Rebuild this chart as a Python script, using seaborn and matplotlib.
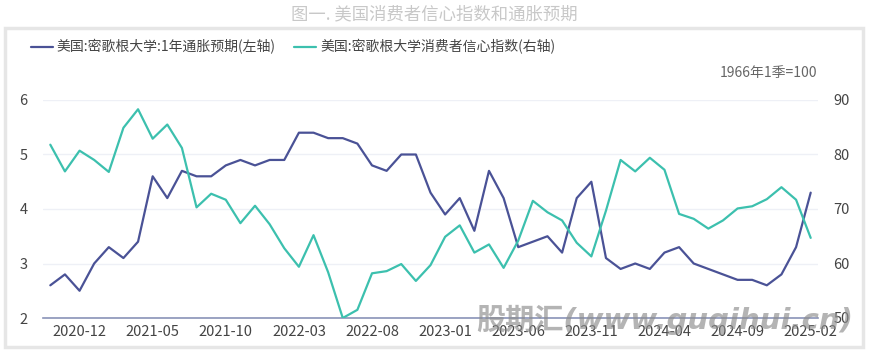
import pandas as pd
import seaborn as sns
import matplotlib.pyplot as plt
from matplotlib.patches import Rectangle

# monthly, 2020-10 .. 2025-02
months = pd.date_range("2020-10-01", "2025-02-01", freq="MS").strftime("%Y-%m").tolist()
inflation_1y = [2.6, 2.8, 2.5, 3.0, 3.3, 3.1, 3.4, 4.6, 4.2, 4.7, 4.6, 4.6,
                4.8, 4.9, 4.8, 4.9, 4.9, 5.4, 5.4, 5.3, 5.3, 5.2, 4.8, 4.7,
                5.0, 5.0, 4.3, 3.9, 4.2, 3.6, 4.7, 4.2, 3.3, 3.4, 3.5, 3.2,
                4.2, 4.5, 3.1, 2.9, 3.0, 2.9, 3.2, 3.3, 3.0, 2.9, 2.8, 2.7,
                2.7, 2.6, 2.8, 3.3, 4.3]
sentiment = [81.8, 76.9, 80.7, 79.0, 76.8, 84.9, 88.3, 82.9, 85.5, 81.2, 70.3, 72.8,
             71.7, 67.4, 70.6, 67.2, 62.8, 59.4, 65.2, 58.4, 50.0, 51.5, 58.2, 58.6,
             59.9, 56.8, 59.7, 64.9, 67.0, 62.0, 63.5, 59.2, 64.2, 71.5, 69.4, 67.9,
             63.8, 61.3, 69.7, 79.0, 76.9, 79.4, 77.2, 69.1, 68.2, 66.4, 67.9, 70.1,
             70.5, 71.8, 74.0, 71.7, 64.7]

df = pd.DataFrame({"month": months, "infl": inflation_1y, "sent": sentiment})
df["idx"] = range(len(df))

sns.set_style("white")
plt.rcParams["font.family"] = ["Noto Sans CJK SC", "DejaVu Sans"]

c_infl = "#4a5296"
c_sent = "#3cc0ae"
txt = "#444444"

fig = plt.figure(figsize=(8.69, 3.51), dpi=100)
ax = fig.add_axes([43 / 869, 1 - 318 / 351, 775 / 869, 218 / 351])
ax2 = ax.twinx()

sns.lineplot(data=df, x="idx", y="infl", ax=ax, color=c_infl, linewidth=1.6,
             label="美国:密歌根大学:1年通胀预期(左轴)", legend=False)
sns.lineplot(data=df, x="idx", y="sent", ax=ax2, color=c_sent, linewidth=1.6,
             label="美国:密歌根大学消费者信心指数(右轴)", legend=False)

ax.set_ylim(2, 6)
ax2.set_ylim(50, 90)
ax.set_yticks([2, 3, 4, 5, 6])
ax2.set_yticks([50, 60, 70, 80, 90])
ax.set_xlim(-0.5, len(df) - 0.5)
tick_pos = list(range(2, len(df), 5))
ax.set_xticks(tick_pos)
ax.set_xticklabels([months[i] for i in tick_pos])
ax.set_xlabel("")
ax.set_ylabel("")
ax2.set_ylabel("")

ax.grid(axis="y", color="#eef0f6", linewidth=1)
ax.set_axisbelow(True)
for a in (ax, ax2):
    for s in ["top", "right", "left", "bottom"]:
        a.spines[s].set_visible(False)
    a.tick_params(length=0, labelsize=10.5, colors=txt)
ax.spines["bottom"].set_visible(True)
ax.spines["bottom"].set_color("#8a93b8")
ax.spines["bottom"].set_linewidth(1.2)
ax.tick_params(axis="y", pad=11)
ax.tick_params(axis="x", pad=5)
ax2.tick_params(axis="y", pad=11)

h1, l1 = ax.get_legend_handles_labels()
h2, l2 = ax2.get_legend_handles_labels()
fig.legend(h1 + h2, l1 + l2, loc="center left", bbox_to_anchor=(18 / 869, 1 - 47 / 351),
           ncol=2, frameon=False, fontsize=10, handlelength=1.6, handletextpad=0.3,
           columnspacing=1.3, labelcolor=txt)

fig.text(817 / 869, 1 - 73 / 351, "1966年1季=100", ha="right", va="center",
         fontsize=10, color="#666666")
fig.text(0.5, 1 - 14 / 351, "图一. 美国消费者信心指数和通胀预期", ha="center", va="center",
         fontsize=12.5, color="#c8c8c8")
# watermark
fig.text(476 / 869, 1 - 320 / 351, "股期汇(www.guqihui.cn)", ha="left", va="center",
         fontsize=21, fontweight="bold", fontstyle="italic", color="#8c8c8c", alpha=0.65,
         family=["DejaVu Sans", "Noto Sans CJK SC"])

fig.patches.append(Rectangle((5 / 869, 1 - 347 / 351), 858 / 869, 319 / 351,
                             transform=fig.transFigure, fill=False,
                             edgecolor="#e6e6e6", linewidth=2.5))

fig.savefig("out.png", dpi=100)
